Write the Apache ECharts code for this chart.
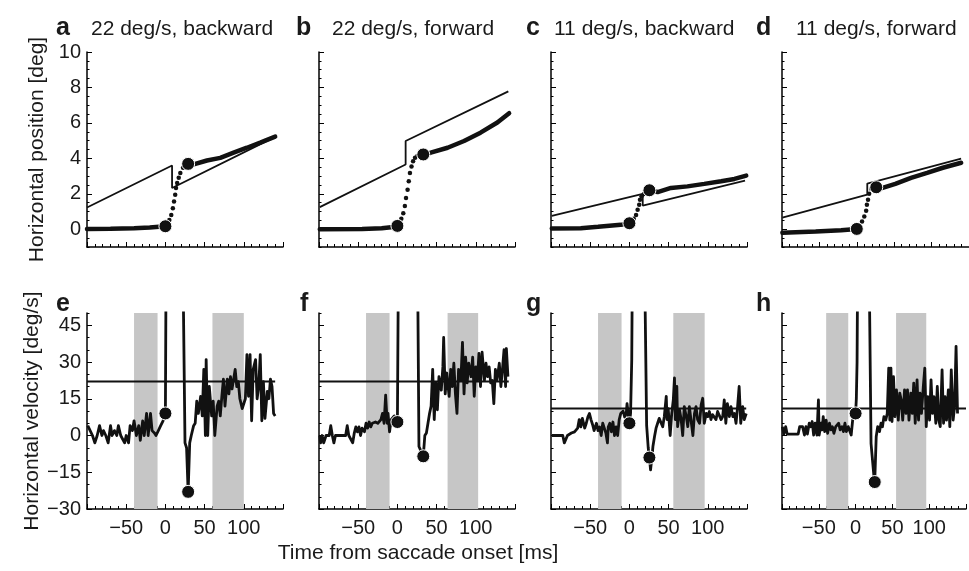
<!DOCTYPE html>
<html><head><meta charset="utf-8">
<script src="https://cdn.jsdelivr.net/npm/echarts@6/dist/echarts.min.js"></script>
<style>html,body{margin:0;padding:0;background:#fff;}#chart{width:969px;height:571px;}</style>
</head><body><div id="chart"></div>
<script>
// ---------- labels ----------
const panelLetters = ['a','b','c','d','e','f','g','h'];
const panelTitles = ['22 deg/s, backward','22 deg/s, forward','11 deg/s, backward','11 deg/s, forward'];
const xLabelValues = [-50,0,50,100];
const posTickValues = [0,2,4,6,8,10];
const velTickValues = [-30,-15,0,15,30,45];
const targetSpeed = [22,22,11,11];
const targetVelEnd = [140,142,149,150];

// ---------- position panels (a-d) ----------
const targetPosA = [[-100,1.23],[8.5,3.6],[8.5,2.33],[140,5.21]];
const eyePreA = [[-100,0.02],[-70,0.03],[-40,0.06],[-20,0.1],[0,0.17]];
const saccadeA = [[5,0.53],[7.5,0.81],[9.5,1.19],[11,1.57],[12.5,1.95],[13.5,2.33],[15,2.61],[17,2.9],[19,3.18],[22.5,3.47]];
const eyePostA = [[29,3.69],[36,3.66],[53,3.88],[70,4.03],[87,4.32],[104,4.6],[121,4.89],[140,5.23]];
const markPosA = [[0,0.17],[29,3.69]];

const targetPosB = [[-99,1.25],[10.5,3.65],[10.5,4.98],[141.5,7.78]];
const eyePreB = [[-99,0],[-45,0.02],[-20,0.06],[-5,0.13],[0,0.19]];
const saccadeB = [[2,0.34],[5,0.59],[7.5,0.91],[9.5,1.31],[11,1.76],[13,2.23],[14.5,2.71],[16,3.18],[18,3.54],[20,3.84],[22.5,4.03],[25.5,4.13]];
const eyePostB = [[33,4.22],[42.5,4.32],[64,4.6],[85,4.98],[106,5.45],[127.5,6.02],[142.5,6.55]];
const markPosB = [[0,0.19],[33,4.22]];

const targetPosC = [[-99,0.76],[17,1.99],[17,1.34],[147.5,2.75]];
const eyePreC = [[-99,0.05],[-62,0.06],[-40,0.14],[-11,0.25],[0,0.34]];
const saccadeC = [[5.5,0.59],[8.5,0.81],[10.5,1.1],[12.5,1.38],[13.5,1.67],[15.5,1.86],[18.5,1.99],[21,2.08]];
const eyePostC = [[25.5,2.2],[36,2.1],[53,2.33],[74,2.42],[95.5,2.56],[117,2.71],[134,2.84],[149,3.03]];
const markPosC = [[0,0.34],[25.5,2.2]];

const targetPosD = [[-99.5,0.66],[14,1.95],[14,2.58],[139.5,3.98]];
const eyePreD = [[-99.5,-0.19],[-55,-0.13],[-21,-0.06],[0,0.02]];
const saccadeD = [[7,0.44],[10,0.72],[12.5,1.04],[13.5,1.38],[15,1.67],[16.5,2.0],[19.5,2.27]];
const eyePostD = [[26,2.37],[34.5,2.33],[51.5,2.56],[72.5,2.9],[94,3.18],[115,3.47],[139.5,3.75]];
const markPosD = [[0,0.02],[26,2.37]];

// ---------- velocity panels (e-h) ----------
const velE = [[-99,4],[-96,2],[-93,0],[-90,-3],[-87,0],[-84,4],[-81,0],[-79,2],[-76,0],[-73,-3],[-70,4],[-68,0],[-65,2],[-62,0],[-60,4],[-57,0],[-55,0],[-52,-3],[-50,0],[-47,-3],[-45,4],[-42,2],[-40,6],[-37,0],[-34,4],[-32,-2],[-29,6],[-27,0],[-24,9],[-22,0],[-19,9],[-17,2],[-14,1],[-12,0],[-9,2],[-6,4],[-3,6],[0,9],
 [1,80],[22,80],[25,-3],[27,-5],[29,-23],[31,-3],[33,0],[36,4],[38,5],[40,14],[42,9],[45,16],[47,8],[49,27],[51,0],[52,31],[54,0],[56,20],[59,8],[61,14],[63,0],[66,12],[68,14],[70,8],[72,16],[74,23],[76,12],[79,23],[81,17],[83,24],[85,19],[87,23],[89,27],[91,20],[93,22],[95,15],[98,11],[100,11],[102,15],[104,33],[106,16],[108,33],[110,6],[112,27],[115,31],[117,15],[119,20],[121,33],[123,6],[125,22],[127,7],[130,18],[132,15],[134,23],[136,20],[138,9],[140,8]];
const velF = [[-99,0],[-98,-3],[-96,0],[-94,-3],[-91,0],[-87,0],[-85,4],[-83,0],[-81,-3],[-79,0],[-66,0],[-64,4],[-62,0],[-60,0],[-57,-3],[-55,1],[-53,3.5],[-51,1.5],[-49,3.5],[-47,0],[-45,3],[-42,1.5],[-40,5],[-38,3],[-36,5.5],[-34,3.5],[-32,5],[-28,5.5],[-25,5],[-21,6.5],[-19,9],[-17,5],[-15,16.5],[-13,5],[-12,9],[-10,1.5],[-8,6.5],[-6,6.5],[-4,8],[-2,7],[0,5.5],
 [1.5,80],[25.5,80],[27.5,-4.5],[30,-4.5],[33,-8.5],[35,0],[37,1],[39,5],[41,9],[43,12],[45,27],[47,6.5],[49,21.5],[51,10.5],[53,24],[56,18.5],[58,28],[59,40],[61,17],[63,25.5],[66,16],[68,27],[70,20],[72,29.5],[74,17],[76,9],[78,27],[81,22.5],[83,38],[85,17],[87,32],[89,21.5],[91,29.5],[94,24],[96,32],[98,16],[100,28],[102,22.5],[104,33.5],[106,20],[108,34],[111,22.5],[113,29.5],[115,24],[117,28],[119,21.5],[121,22.5],[123,13],[125,27],[127,22.5],[130,29.5],[132,20],[134,27],[136,35],[138,20],[139,35.5],[141,24]];
const velG = [[-99,0],[-85,0],[-83,-3],[-79,0],[-74,1],[-70,1.5],[-66,3],[-64,6.5],[-62,3.5],[-60,7],[-57,3],[-55,5],[-53,7.5],[-51,9],[-49,6.5],[-47,4.5],[-45,2],[-42,5],[-40,2],[-38,3.5],[-36,0],[-34,5],[-32,3],[-30,1],[-28,-3],[-27,3.5],[-25,5],[-23,1.5],[-21,5.5],[-19,0],[-17,3.5],[-15,0],[-13,6.5],[-11,9],[-8,10],[-6,7.5],[-4,9],[-3,13],[-1,7.5],[0,5],
 [1.5,9],[3,31],[4,80],[19,80],[22,4],[24,-5],[25.5,-9],[27,-14],[29,-8],[30,-4.5],[32,-0.5],[34,3],[36,5],[38,7],[40.5,7],[42.5,3.6],[44.5,7.7],[47,16],[48,6.5],[49.5,11],[52,0],[54,9],[56,14.5],[57.5,23.5],[58.5,6.5],[60.5,20],[61.5,3.6],[64,10.4],[66,6.5],[68,0],[70,11.8],[72.5,7.7],[74.5,3.6],[76.5,11.8],[78.5,6.5],[81,0],[83,9],[85,11.8],[87,6.5],[89.5,5],[91.5,12.5],[93.5,15.2],[95.5,5],[98,9],[100,7.7],[102,9.8],[104,6.5],[106,8.5],[108,7.7],[110.5,6.5],[112.5,9.8],[115,9],[117,6.5],[119,7.7],[121,14.5],[123,5],[125,13],[127.5,7.7],[129.5,11.8],[132,7.7],[134,9],[136,5],[138,11.8],[140,20],[142,5],[144.5,11.8],[146.5,6.5],[149,9]];
const velH = [[-99.5,3.6],[-97.5,0.6],[-95,3.6],[-93,0.6],[-91,0.6],[-78,0.6],[-76,3.6],[-74,3.6],[-72,3.6],[-69.5,0.2],[-67.5,3.6],[-65.5,0.6],[-63,5],[-61,3.6],[-59,5.7],[-57,0.2],[-55,5],[-52.5,0.2],[-50.5,14.5],[-49.5,0.2],[-47,5],[-45.5,2.3],[-44,7.7],[-42,1.6],[-40,6.3],[-38,0.9],[-35.5,5],[-33.5,2.3],[-31.5,3.6],[-29.5,0.9],[-27,3.6],[-25,2.9],[-23,5],[-21,2.3],[-18.5,3.6],[-16.5,1.6],[-14.5,5],[-12.5,1.6],[-10,3.6],[-8,2.9],[-6,0.2],[-4,6.3],[-1.5,7],[0,9],
 [1,15],[2,30],[3,80],[18,80],[21,-3.3],[23,-4],[25,-17],[26,-19],[28,-0.5],[30,3.6],[32.5,1.6],[34.5,5],[36.5,3.6],[38.5,7.7],[41,6.3],[43,9],[45,27.5],[46.5,6.3],[48,27.5],[49.5,5.7],[51.5,24],[53.5,7.7],[55.5,18.6],[58,6.3],[60,17.3],[62,14.5],[64,6.3],[66.5,18.6],[68.5,9],[70.5,18.6],[72.5,6.3],[75,17.3],[77,9],[79,21.4],[81,5],[83.5,22.7],[85.5,6.3],[87.5,17.3],[89.5,9],[92,20],[94,27.5],[96,3.6],[98,15.9],[100.5,6.3],[102.5,22.7],[104.5,9],[106.5,15.9],[109,5],[111,20],[113,6.3],[115,3.6],[117.5,26.8],[119.5,5],[121.5,15.9],[123.5,6.3],[126,18.6],[128,3.6],[130,26.8],[132.5,6.3],[134.5,11.8],[136.5,36.4],[138.5,9]];
const markVelE = [[0,9],[29,-23]];
const markVelF = [[0,5.5],[33,-8.5]];
const markVelG = [[0,5],[25.5,-9]];
const markVelH = [[0,9],[26,-19]];
const windowsE = [[-40,-10],[60,100]];
const windowsF = [[-40,-10],[64,103]];
const windowsG = [[-40,-10],[56,96]];
const windowsH = [[-40,-10],[55,96]];

// ---------- assemble ----------
const targetPos = [targetPosA,targetPosB,targetPosC,targetPosD];
const eyePre = [eyePreA,eyePreB,eyePreC,eyePreD];
const saccade = [saccadeA,saccadeB,saccadeC,saccadeD];
const eyePost = [eyePostA,eyePostB,eyePostC,eyePostD];
const markPos = [markPosA,markPosB,markPosC,markPosD];
const vel = [velE,velF,velG,velH];
const markVel = [markVelE,markVelF,markVelG,markVelH];
const windows = [windowsE,windowsF,windowsG,windowsH];

const FONT = '"Liberation Sans", Arial, Helvetica, sans-serif';
const INK = '#1a1a1a';
const LINE = '#111';
const colLeft = [87, 319, 551, 782];
const W = 196;
const fmt = v => (v < 0 ? '\u2212' + Math.abs(v) : String(v));

const grid = [], xAxis = [], yAxis = [], series = [];
for (let i = 0; i < 8; i++) {
  const top = i < 4;
  grid.push({left: colLeft[i % 4], top: top ? 52 : 313, width: W, height: top ? 195 : 196, containLabel: false});
  xAxis.push({
    type: 'value', gridIndex: i, min: -100, max: 150, interval: 50,
    axisLine: {show: true, onZero: false, lineStyle: {color: '#000', width: 1.5}},
    axisTick: {show: true, inside: true, length: 5, lineStyle: {color: '#000', width: 1}},
    minorTick: {show: true, splitNumber: 5, length: 3, lineStyle: {color: '#000', width: 1}},
    axisLabel: {show: !top, margin: 9, fontSize: 20, fontFamily: FONT, color: INK,
      formatter: v => xLabelValues.includes(v) ? fmt(v) : ''},
    splitLine: {show: false}, minorSplitLine: {show: false}
  });
  const ticks = top ? posTickValues : velTickValues;
  yAxis.push({
    type: 'value', gridIndex: i, position: 'left',
    min: top ? -1 : -30, max: top ? 10 : 50,
    axisLine: {show: true, onZero: false, lineStyle: {color: '#000', width: 1.5}},
    axisTick: {show: true, inside: true, length: 5, customValues: ticks, lineStyle: {color: '#000', width: 1}},
    axisLabel: {show: i % 4 === 0, customValues: ticks, margin: 6, fontSize: 20, fontFamily: FONT, color: INK, formatter: v => fmt(v)},
    splitLine: {show: false},
    name: i === 0 ? 'Horizontal position [deg]' : (i === 4 ? 'Horizontal velocity [deg/s]' : ''),
    nameLocation: 'middle', nameGap: 39,
    nameTextStyle: {fontSize: 21, fontFamily: FONT, color: INK}
  });
}
// minor tick axes (indices 8..15)
for (let i = 0; i < 8; i++) {
  const top = i < 4;
  yAxis.push({
    type: 'value', gridIndex: i, position: 'left', offset: 0,
    min: top ? -1 : -30, max: top ? 10 : 50, interval: top ? 0.5 : 5,
    axisLine: {show: false, onZero: false}, axisLabel: {show: false}, splitLine: {show: false},
    axisTick: {show: true, inside: true, length: 2.5, lineStyle: {color: '#000', width: 1}}
  });
}

for (let p = 0; p < 4; p++) {
  series.push({type: 'line', xAxisIndex: p, yAxisIndex: p, data: targetPos[p], showSymbol: false, z: 3,
    lineStyle: {color: LINE, width: 1.8}, animation: false});
  series.push({type: 'line', xAxisIndex: p, yAxisIndex: p, data: eyePre[p], showSymbol: false, z: 3,
    lineStyle: {color: LINE, width: 4.5, cap: 'round'}, animation: false});
  series.push({type: 'line', xAxisIndex: p, yAxisIndex: p, data: eyePost[p], showSymbol: false, z: 3,
    lineStyle: {color: LINE, width: 4.5, cap: 'round'}, animation: false});
  series.push({type: 'scatter', xAxisIndex: p, yAxisIndex: p, data: saccade[p], symbolSize: 4.5, z: 4,
    itemStyle: {color: LINE, opacity: 1}, animation: false});
  series.push({type: 'scatter', xAxisIndex: p, yAxisIndex: p, data: markPos[p], symbolSize: 13, z: 5,
    itemStyle: {color: LINE, opacity: 1, borderColor: '#fff', borderWidth: 1}, animation: false});
}
for (let q = 0; q < 4; q++) {
  const g = q + 4;
  series.push({type: 'line', xAxisIndex: g, yAxisIndex: g, data: [], z: 1, silent: true, animation: false,
    markArea: {silent: true, itemStyle: {color: '#c6c6c6', opacity: 1},
      data: windows[q].map(w => [{xAxis: w[0]}, {xAxis: w[1]}])}});
  series.push({type: 'line', xAxisIndex: g, yAxisIndex: g, z: 2, showSymbol: false, animation: false,
    data: [[-100, targetSpeed[q]], [targetVelEnd[q], targetSpeed[q]]], lineStyle: {color: LINE, width: 2}});
  series.push({type: 'line', xAxisIndex: g, yAxisIndex: g, z: 3, showSymbol: false, animation: false, clip: true,
    data: vel[q], lineStyle: {color: LINE, width: 2.8, join: 'round'}});
  series.push({type: 'scatter', xAxisIndex: g, yAxisIndex: g, data: markVel[q], symbolSize: 13, z: 5,
    itemStyle: {color: LINE, opacity: 1, borderColor: '#fff', borderWidth: 1}, animation: false});
}

const graphic = [];
const letterPos = [[56,28],[296,28],[526,28],[756,28],[56,304],[300,304],[526,304],[756,304]];
panelLetters.forEach((t, i) => graphic.push({type: 'text', x: letterPos[i][0], y: letterPos[i][1],
  style: {text: t, font: 'bold 25px ' + FONT, fill: INK, align: 'left', verticalAlign: 'middle'}}));
const titlePos = [[91,29],[332,29],[554,29],[796,29]];
panelTitles.forEach((t, i) => graphic.push({type: 'text', x: titlePos[i][0], y: titlePos[i][1],
  style: {text: t, font: '21px ' + FONT, fill: INK, align: 'left', verticalAlign: 'middle'}}));
graphic.push({type: 'text', x: 418, y: 553, style: {text: 'Time from saccade onset [ms]', font: '21px ' + FONT, fill: INK, align: 'center', verticalAlign: 'middle'}});

const chart = echarts.init(document.getElementById('chart'), null, {renderer: 'canvas'});
chart.setOption({animation: false, backgroundColor: '#fff', grid, xAxis, yAxis, series, graphic});
</script></body></html>
